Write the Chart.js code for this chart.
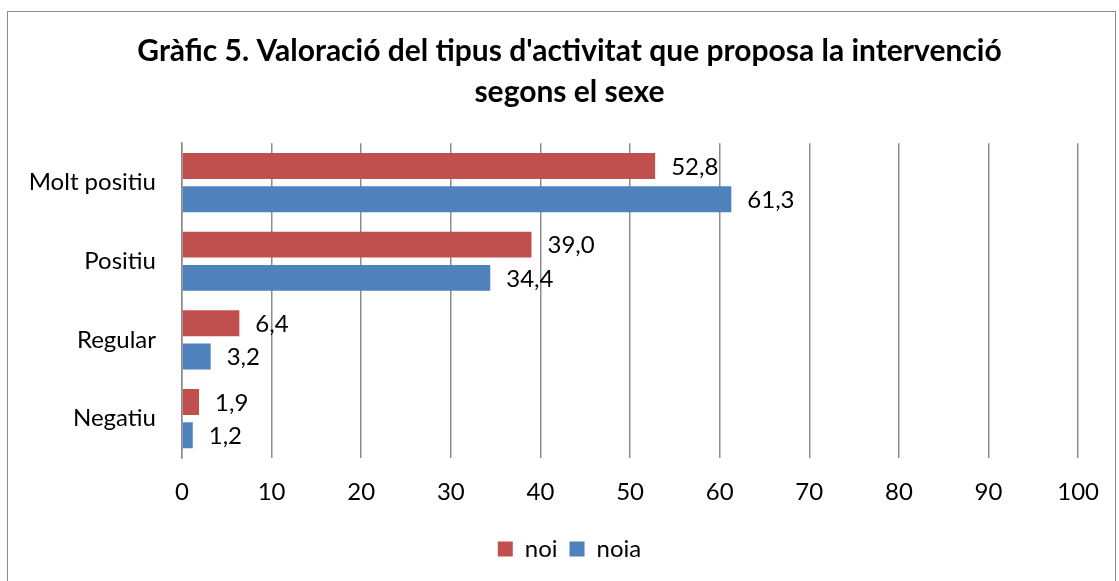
<!DOCTYPE html>
<html>
<head>
<meta charset="utf-8">
<script src="https://cdn.jsdelivr.net/npm/chart.js@4"></script>
<style>
  html, body { margin: 0; padding: 0; background: #fff; }
  #frame {
    position: absolute; left: 7px; top: 11px; width: 1109px; height: 580px;
    border: 1.5px solid #8a8a8a; box-sizing: border-box;
  }
  #wrap { position: absolute; left: 0; top: 0; width: 1119px; height: 581px; }
</style>
</head>
<body>
<div id="frame"></div>
<div id="wrap"><canvas id="chart" width="1119" height="581"></canvas></div>
<script>
const categories = ["Molt positiu", "Positiu", "Regular", "Negatiu"];
const noi = [52.8, 39.0, 6.4, 1.9];
const noia = [61.3, 34.4, 3.2, 1.2];
const xTicks = [0, 10, 20, 30, 40, 50, 60, 70, 80, 90, 100];

const gridGray = "#8c8c8c";
const fontName = "Lato, 'Liberation Sans', sans-serif";

// value labels at the end of each bar, decimal comma
const barLabels = {
  id: "barLabels",
  afterDatasetsDraw(chart) {
    const ctx = chart.ctx;
    ctx.save();
    ctx.font = "24px " + fontName;
    ctx.fillStyle = "#000";
    ctx.textAlign = "left";
    ctx.textBaseline = "middle";
    chart.data.datasets.forEach((ds, i) => {
      const meta = chart.getDatasetMeta(i);
      meta.data.forEach((bar, j) => {
        const txt = ds.data[j].toFixed(1).replace(".", ",");
        ctx.fillText(txt, bar.x + 16, bar.y + 1);
      });
    });
    ctx.restore();
  }
};

new Chart(document.getElementById("chart"), {
  type: "bar",
  data: {
    labels: categories,
    datasets: [
      {
        label: "noi",
        data: noi,
        backgroundColor: "#C0504D",
        categoryPercentage: 0.845,
        barPercentage: 0.78
      },
      {
        label: "noia",
        data: noia,
        backgroundColor: "#4F81BD",
        categoryPercentage: 0.845,
        barPercentage: 0.78
      }
    ]
  },
  options: {
    indexAxis: "y",
    responsive: false,
    animation: false,
    layout: { padding: { left: 20, right: 0, top: 0, bottom: 10 } },
    scales: {
      x: {
        min: 0,
        max: 100,
        afterBuildTicks: scale => {
          scale.ticks = xTicks.map(v => ({ value: v }));
        },
        afterFit: scale => { scale.height = 67; },
        grid: { color: gridGray, lineWidth: 1.5, drawTicks: false },
        border: { display: false },
        ticks: {
          padding: 20,
          color: "#000",
          font: { family: fontName, size: 24 }
        }
      },
      y: {
        afterFit: scale => { scale.width = 162; },
        grid: { display: false, drawTicks: false },
        border: { display: true, color: gridGray, width: 1.5 },
        ticks: {
          padding: 26,
          color: "#000",
          font: { family: fontName, size: 24 }
        }
      },
      // empty right-hand spacer so the legend centres like the original
      yRight: {
        type: "category",
        position: "right",
        afterFit: scale => { scale.width = 39; },
        grid: { display: false, drawTicks: false },
        border: { display: false },
        ticks: { display: false }
      }
    },
    plugins: {
      title: {
        display: true,
        text: ["Gràfic 5. Valoració del tipus d'activitat que proposa la intervenció", "segons el sexe"],
        color: "#000",
        font: { family: fontName, size: 30, weight: "bold", lineHeight: 1.37 },
        padding: { top: 31, bottom: 30 }
      },
      legend: {
        position: "bottom",
        labels: {
          boxWidth: 15,
          boxHeight: 15,
          color: "#000",
          padding: 12,
          font: { family: fontName, size: 24 }
        }
      },
      tooltip: { enabled: false }
    }
  },
  plugins: [barLabels]
});
</script>
</body>
</html>
